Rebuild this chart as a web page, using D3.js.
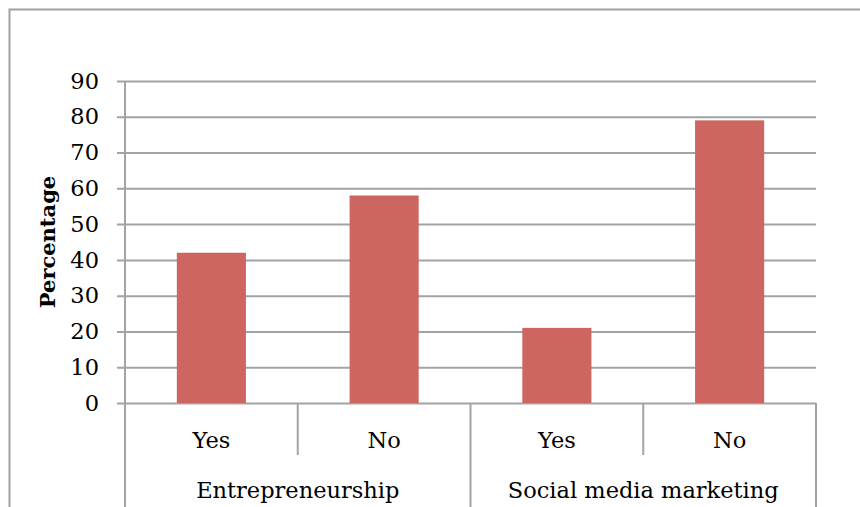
<!DOCTYPE html>
<html>
<head>
<meta charset="utf-8">
<script src="https://cdn.jsdelivr.net/npm/d3@7/dist/d3.min.js"></script>
<style>
  html, body { margin: 0; padding: 0; background: #fff; }
  svg { display: block; }
  text { font-family: "DejaVu Serif", "Liberation Serif", serif; fill: #000; }
</style>
</head>
<body>
<svg id="chart" width="860" height="507"></svg>
<script>
// Survey answers, grouped by topic
const groups = ["Entrepreneurship", "Social media marketing"];
const answers = ["Yes", "No"];
const values = [42, 58, 21, 79];           // percentage per (group, answer)
const yTicks = [0, 10, 20, 30, 40, 50, 60, 70, 80, 90];
const yTitle = "Percentage";

const W = 860, H = 507;
const plot = { left: 125, right: 816, top: 81, bottom: 403 };
const gridColor = "#a3a3a3";
const barColor = "#cd6660";
const labelSize = 22.5;

const svg = d3.select("#chart");

// Outer chart frame (runs past the right and bottom edges)
svg.append("rect")
  .attr("x", 9.5).attr("y", 9.5)
  .attr("width", W + 20).attr("height", H + 20)
  .attr("fill", "none").attr("stroke", "#a0a0a0").attr("stroke-width", 2);

const cells = [];
groups.forEach((g, gi) => answers.forEach((a, ai) => {
  cells.push({ key: g + "|" + a, group: g, answer: a, value: values[gi * answers.length + ai] });
}));

const x = d3.scaleBand()
  .domain(cells.map(d => d.key))
  .range([plot.left, plot.right])
  .paddingInner(0.6)
  .paddingOuter(0.3);

const y = d3.scaleLinear().domain([0, 90]).range([plot.bottom, plot.top]);

// Horizontal gridlines, extended left to act as tick marks
const yAxis = d3.axisLeft(y)
  .tickValues(yTicks)
  .tickSize(-(plot.right - plot.left))
  .tickSizeOuter(0);

const gy = svg.append("g")
  .attr("transform", `translate(${plot.left},0)`)
  .call(yAxis);
gy.select(".domain").remove();
gy.selectAll(".tick line")
  .attr("x1", -8)
  .attr("stroke", gridColor).attr("stroke-width", 2);
gy.selectAll(".tick text")
  .attr("x", -26)
  .attr("font-size", labelSize)
  .attr("font-family", "DejaVu Serif, serif");

// Bars
svg.append("g").selectAll("rect")
  .data(cells)
  .join("rect")
  .attr("x", d => x(d.key))
  .attr("y", d => y(d.value))
  .attr("width", x.bandwidth())
  .attr("height", d => y(0) - y(d.value))
  .attr("fill", barColor);

// Category axis: answer row and group row with dividers
const step = x.step();
const catLeft = d => x(d.key) - x.paddingInner() * step / 2;

const axisG = svg.append("g");
// vertical axis line, continued down through the category rows
axisG.append("line")
  .attr("x1", plot.left).attr("x2", plot.left)
  .attr("y1", plot.top).attr("y2", H)
  .attr("stroke", gridColor).attr("stroke-width", 2);

// short dividers between answers within a group
cells.forEach((d, i) => {
  if (i % answers.length !== 0) {
    const xx = catLeft(d);
    axisG.append("line")
      .attr("x1", xx).attr("x2", xx)
      .attr("y1", plot.bottom).attr("y2", 455)
      .attr("stroke", gridColor).attr("stroke-width", 2);
  }
});
// long dividers between groups and at the right end
groups.forEach((g, gi) => {
  const last = cells[(gi + 1) * answers.length - 1];
  const xx = catLeft(last) + step;
  axisG.append("line")
    .attr("x1", xx).attr("x2", xx)
    .attr("y1", plot.bottom).attr("y2", H)
    .attr("stroke", gridColor).attr("stroke-width", 2);
});

axisG.selectAll("text.answer")
  .data(cells)
  .join("text")
  .attr("class", "answer")
  .attr("x", d => x(d.key) + x.bandwidth() / 2)
  .attr("y", 448)
  .attr("text-anchor", "middle")
  .attr("font-size", labelSize)
  .text(d => d.answer);

axisG.selectAll("text.group")
  .data(groups)
  .join("text")
  .attr("class", "group")
  .attr("x", (g, gi) => {
    const first = cells[gi * answers.length];
    const last = cells[(gi + 1) * answers.length - 1];
    return (catLeft(first) + catLeft(last) + step) / 2;
  })
  .attr("y", 498)
  .attr("text-anchor", "middle")
  .attr("font-size", labelSize)
  .text(g => g);

// Y axis title
svg.append("text")
  .attr("transform", `translate(55,242) rotate(-90)`)
  .attr("text-anchor", "middle")
  .attr("font-size", 21)
  .attr("font-weight", "bold")
  .text(yTitle);
</script>
</body>
</html>
